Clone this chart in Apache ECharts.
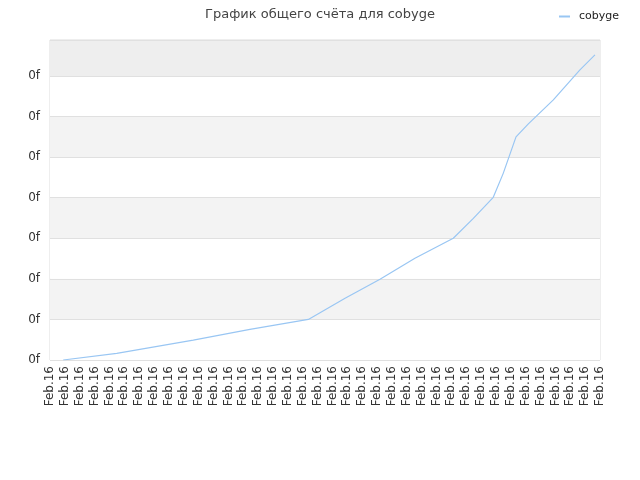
<!DOCTYPE html>
<html>
<head>
<meta charset="utf-8">
<script src="https://cdn.jsdelivr.net/npm/echarts@6/dist/echarts.min.js"></script>
<style>
    html, body { margin: 0; padding: 0; background: #fff; }
    #main { width: 640px; height: 480px; }
</style>
</head>
<body>
<div id="main"></div>
<script>
    // подписи оси X (38 штук, все одинаковые)
    const xLabels = [];
    for (let i = 0; i < 38; i++) xLabels.push('Feb.16');

    // положение точек по оси X (в делениях) и значения счёта
    const pointPos = [0.89, 4.49, 9.64, 13.45, 17.38, 19.85, 22.2, 24.55, 27.13, 28.48, 29.82, 30.49, 31.35, 32.18, 33.86, 35.65, 36.66];
    const scoreValues = [0, 0.165, 0.49, 0.757, 1.0, 1.52, 1.99, 2.51, 3.0, 3.49, 4.01, 4.6, 5.5, 5.82, 6.41, 7.15, 7.52];
    const yTickLabel = '0f';

    const seriesData = pointPos.map((x, i) => [x, scoreValues[i]]);

    var chartDom = document.getElementById('main');
    var myChart = echarts.init(chartDom);
    var option = {
        animation: false,
        title: {
            text: 'График общего счёта для cobyge',
            left: 'center',
            top: 3,
            textStyle: {
                fontFamily: 'DejaVu Sans',
                fontSize: 13,
                fontWeight: 'normal',
                color: '#444'
            }
        },
        legend: {
            right: 16,
            top: 6,
            itemWidth: 11,
            itemHeight: 2,
            itemGap: 8,
            icon: 'rect',
            textStyle: {
                fontFamily: 'DejaVu Sans',
                fontSize: 11,
                color: '#222',
                padding: [0, 0, 0, 4]
            },
            data: ['cobyge']
        },
        grid: {
            left: 50,
            right: 40,
            top: 40,
            bottom: 120,
            show: true,
            borderColor: '#ddd',
            borderWidth: 1
        },
        xAxis: {
            type: 'value',
            min: 0,
            max: xLabels.length - 1,
            interval: 1,
            axisLine: { show: false },
            axisTick: { show: false },
            splitLine: { show: false },
            axisLabel: {
                rotate: 90,
                margin: 6,
                fontFamily: 'DejaVu Sans',
                fontSize: 12,
                color: '#333',
                formatter: (v) => xLabels[Math.round(v)] || ''
            }
        },
        yAxis: {
            type: 'value',
            min: 0,
            max: 7.887,
            interval: 1,
            axisLine: { show: false },
            axisTick: { show: false },
            axisLabel: {
                margin: 10,
                fontFamily: 'DejaVu Sans',
                fontSize: 12,
                color: '#333',
                formatter: (v) => (Math.abs(v - Math.round(v)) < 1e-6 ? yTickLabel : '')
            },
            splitLine: { lineStyle: { color: '#e0e0e0' } },
            splitArea: {
                show: true,
                areaStyle: {
                    color: ['#ffffff', '#f3f3f3', '#ffffff', '#f3f3f3', '#ffffff', '#f3f3f3', '#ffffff', '#eeeeee']
                }
            }
        },
        series: [
            {
                name: 'cobyge',
                type: 'line',
                symbol: 'none',
                itemStyle: { color: '#99c6f3' },
                lineStyle: { color: '#99c6f3', width: 1.2 },
                data: seriesData
            }
        ]
    };
    myChart.setOption(option);
</script>
</body>
</html>
